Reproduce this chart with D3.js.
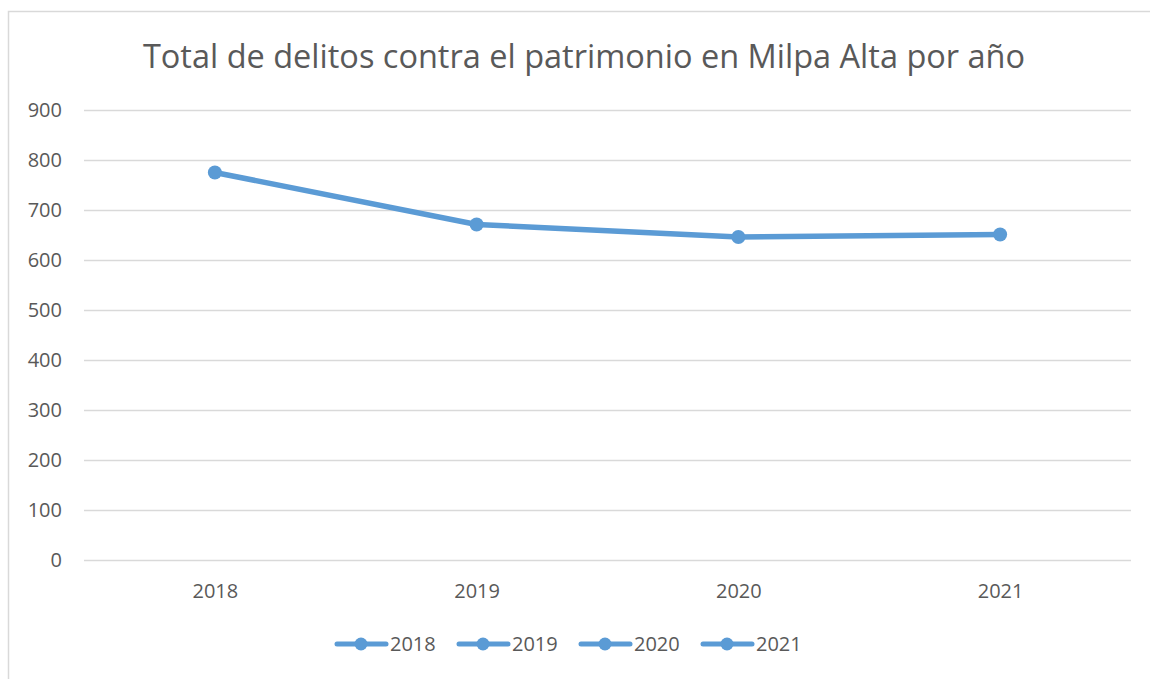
<!DOCTYPE html>
<html>
<head>
<meta charset="utf-8">
<script src="https://cdn.jsdelivr.net/npm/d3@7"></script>
<style>
  html, body { margin: 0; padding: 0; background: #fff; }
  svg { display: block; font-family: "Open Sans", "Liberation Sans", sans-serif; }
</style>
</head>
<body>
<div id="chart"></div>
<script>
// Total de delitos contra el patrimonio en Milpa Alta por año
const TITLE = "Total de delitos contra el patrimonio en Milpa Alta por año";
const years  = ["2018", "2019", "2020", "2021"];
const values = [775, 671, 646, 651];
const yTicks = [0, 100, 200, 300, 400, 500, 600, 700, 800, 900];
const legendLabels = ["2018", "2019", "2020", "2021"];

const W = 1150, H = 679;
const margin = { top: 110, right: 19, bottom: 119, left: 84 };
const BLUE = "#5b9bd5";
const GREY = "#595959";

const svg = d3.select("#chart").append("svg")
  .attr("width", W).attr("height", H);

// marco del gráfico
svg.append("path")
  .attr("d", `M8.5,${H} V11.5 H${W}`)
  .attr("fill", "none")
  .attr("stroke", "#d9d9d9")
  .attr("stroke-width", 1.5);

const x = d3.scalePoint()
  .domain(years)
  .range([margin.left, W - margin.right])
  .padding(0.5);

const y = d3.scaleLinear()
  .domain([0, 900])
  .range([H - margin.bottom, margin.top]);

// título
svg.append("text")
  .attr("x", 584).attr("y", 68)
  .attr("text-anchor", "middle")
  .attr("font-size", 32.5)
  .attr("fill", GREY)
  .text(TITLE);

// rejilla horizontal
svg.append("g")
  .attr("transform", `translate(${margin.left},0)`)
  .call(d3.axisLeft(y).tickValues(yTicks).tickSize(-(W - margin.left - margin.right)).tickFormat(""))
  .call(g => g.select(".domain").remove())
  .selectAll("line").attr("stroke", "#d9d9d9").attr("stroke-width", 1.5);

// eje Y
svg.append("g")
  .attr("transform", `translate(${margin.left},0)`)
  .call(d3.axisLeft(y).tickValues(yTicks).tickSize(0).tickPadding(22))
  .call(g => g.select(".domain").remove())
  .selectAll("text")
  .attr("font-family", "Open Sans, sans-serif")
  .attr("font-size", 20).attr("fill", GREY);

// eje X
svg.append("g")
  .attr("transform", `translate(0,${H - margin.bottom})`)
  .call(d3.axisBottom(x).tickSize(0).tickPadding(24))
  .call(g => g.select(".domain").remove())
  .selectAll("text")
  .attr("font-family", "Open Sans, sans-serif")
  .attr("font-size", 20).attr("fill", GREY);

// línea
const data = years.map((yr, i) => ({ yr, v: values[i] }));
svg.append("path")
  .datum(data)
  .attr("fill", "none")
  .attr("stroke", BLUE)
  .attr("stroke-width", 5.5)
  .attr("stroke-linejoin", "round")
  .attr("stroke-linecap", "round")
  .attr("d", d3.line().x(d => x(d.yr)).y(d => y(d.v)));

svg.append("g").selectAll("circle")
  .data(data).join("circle")
  .attr("cx", d => x(d.yr))
  .attr("cy", d => y(d.v))
  .attr("r", 7)
  .attr("fill", BLUE);

// leyenda
const legend = svg.append("g").attr("transform", "translate(335,644)");
const item = legend.selectAll("g")
  .data(legendLabels).join("g")
  .attr("transform", (d, i) => `translate(${i * 122},0)`);
item.append("line")
  .attr("x1", 2).attr("x2", 51)
  .attr("stroke", BLUE).attr("stroke-width", 5).attr("stroke-linecap", "round");
item.append("circle")
  .attr("cx", 26).attr("r", 6.5).attr("fill", BLUE);
item.append("text")
  .attr("x", 55).attr("y", 7)
  .attr("font-size", 20).attr("fill", GREY)
  .text(d => d);
</script>
</body>
</html>
